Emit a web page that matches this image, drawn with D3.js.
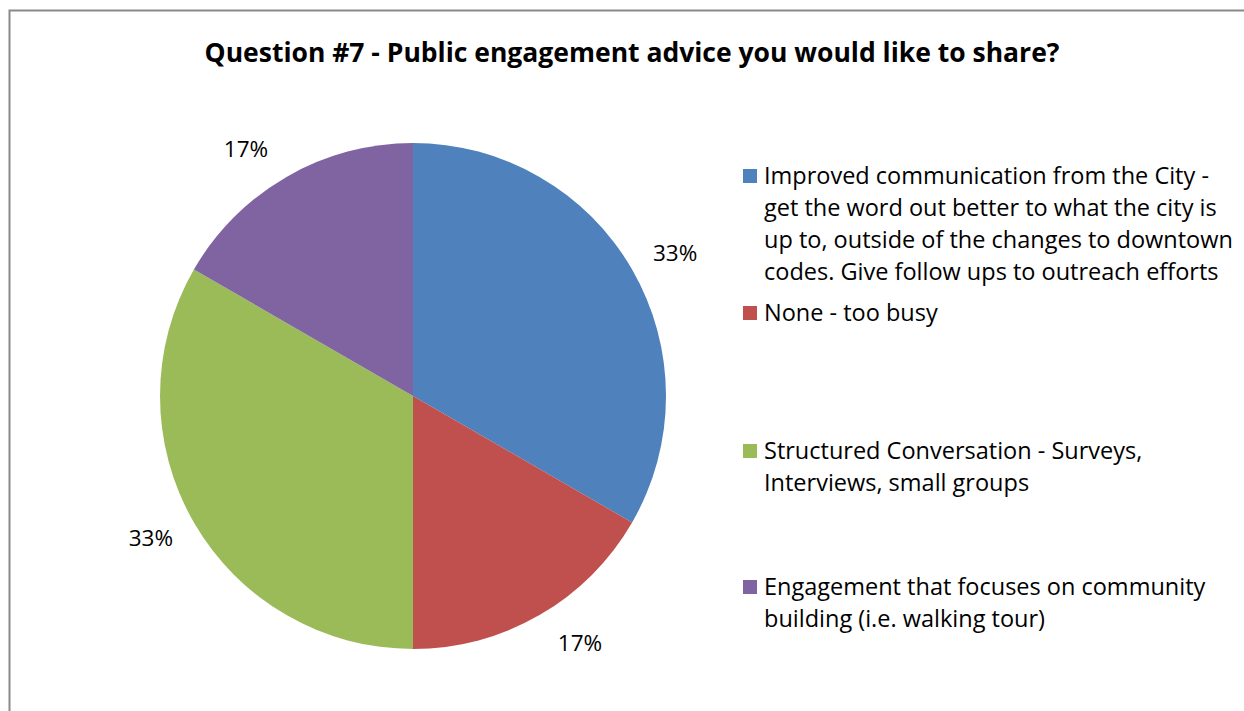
<!DOCTYPE html>
<html>
<head>
<meta charset="utf-8">
<script src="https://cdn.jsdelivr.net/npm/d3@7"></script>
<style>
  html, body { margin: 0; padding: 0; background: #fff; }
  svg { display: block; }
  text { font-family: "Open Sans", Lato, sans-serif; fill: #000; }
</style>
</head>
<body>
<svg id="chart" width="1244" height="711"></svg>
<script>
// Survey responses for question #7
const categories = [
  "Improved communication from the City - get the word out better to what the city is up to, outside of the changes to downtown codes. Give follow ups to outreach efforts",
  "None - too busy",
  "Structured Conversation - Surveys, Interviews, small groups",
  "Engagement that focuses on community building (i.e. walking tour)"
];
const legendLines = [
  ["Improved communication from the City -", "get the word out better to what the city is", "up to, outside of the changes to downtown", "codes. Give follow ups to outreach efforts"],
  ["None - too busy"],
  ["Structured Conversation - Surveys,", "Interviews, small groups"],
  ["Engagement that focuses on community", "building (i.e. walking tour)"]
];
const responses = [2, 1, 2, 1];
const colors = ["#4f81bd", "#c0504d", "#9bbb59", "#8064a2"];
const title = "Question #7 - Public engagement advice you would like to share?";

const svg = d3.select("#chart");

// Chart area frame
svg.append("rect")
  .attr("x", 9.5).attr("y", 10.5)
  .attr("width", 1260).attr("height", 720)
  .attr("fill", "#fff")
  .attr("stroke", "#898989")
  .attr("stroke-width", 2);

svg.append("text")
  .attr("x", 632).attr("y", 62)
  .attr("text-anchor", "middle")
  .style("font-size", "26.5px")
  .style("font-weight", "bold")
  .text(title);

const cx = 413, cy = 396, radius = 253;
const total = d3.sum(responses);

const pie = d3.pie().sort(null).value(d => d)(responses);
const arc = d3.arc().innerRadius(0).outerRadius(radius);
// Labels sit just outside the rim, pushed out by half their box
const labelArc = d3.arc().innerRadius(260).outerRadius(260);
const labelPos = d => {
  const [x, y] = labelArc.centroid(d);
  const a = (d.startAngle + d.endAngle) / 2;
  return [x + Math.sign(Math.sin(a)) * 37, y - Math.cos(a) * 25];
};

const g = svg.append("g").attr("transform", `translate(${cx},${cy})`);

g.selectAll("path.slice")
  .data(pie)
  .join("path")
  .attr("class", "slice")
  .attr("d", arc)
  .attr("fill", (d, i) => colors[i]);

const pct = d3.format(".0%");
g.selectAll("text.pct")
  .data(pie)
  .join("text")
  .attr("class", "pct")
  .attr("transform", d => `translate(${labelPos(d)})`)
  .attr("text-anchor", "middle")
  .attr("dy", "0.35em")
  .style("font-size", "22.5px")
  .text(d => pct(d.value / total));

// Legend
const legendTops = [176, 313, 451, 587];
const lineGap = 32;
const legend = svg.append("g");
legendLines.forEach((lines, i) => {
  const item = legend.append("g").attr("transform", `translate(743,${legendTops[i]})`);
  item.append("rect")
    .attr("x", 0).attr("y", -7)
    .attr("width", 14).attr("height", 14)
    .attr("fill", colors[i]);
  item.selectAll("text")
    .data(lines)
    .join("text")
    .attr("x", 21)
    .attr("y", (d, j) => j * lineGap)
    .attr("dy", "0.35em")
    .style("font-size", "23.5px")
    .text(d => d);
});
</script>
</body>
</html>
